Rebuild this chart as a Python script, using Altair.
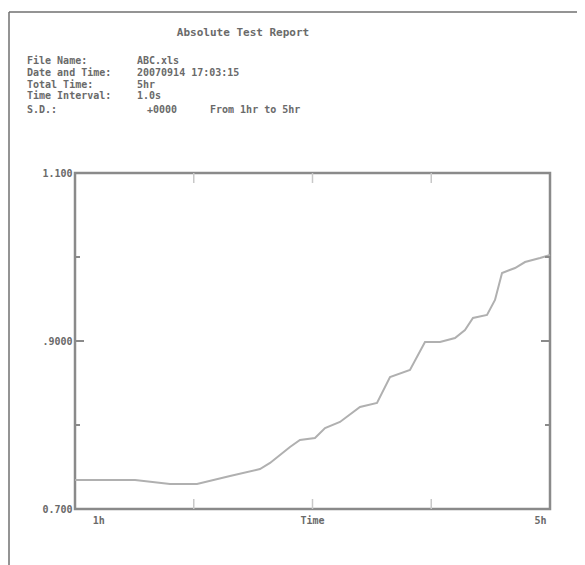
import altair as alt
import pandas as pd

# ---- data ----
hours = [0.0, 0.632, 1.0, 1.284, 1.632, 1.947, 2.053, 2.263, 2.368, 2.526, 2.632, 2.789,
         3.0, 3.179, 3.316, 3.526, 3.684, 3.842, 4.0, 4.105, 4.189, 4.337, 4.421, 4.495,
         4.632, 4.737, 4.895, 5.0]
values = [0.7345, 0.7345, 0.7298, 0.7298, 0.7393, 0.7476, 0.7548, 0.7738, 0.7821, 0.7845,
          0.7964, 0.8036, 0.8214, 0.8262, 0.8571, 0.8655, 0.8988, 0.8988, 0.9036, 0.9131,
          0.9274, 0.9310, 0.9488, 0.9810, 0.9869, 0.9940, 0.9988, 1.0024]

title_text = "Absolute Test Report"
header_labels = ["File Name:", "Date and Time:", "Total Time:", "Time Interval:", "S.D.:"]
header_values = ["ABC.xls", "20070914 17:03:15", "5hr", "1.0s", "+0000"]
range_text = "From 1hr to 5hr"

y_major = [0.7, 0.9, 1.1]
y_major_labels = ["1.100", ".9000", "0.700"]
y_minor = [0.8, 1.0]
x_ticks = [1.25, 2.5, 3.75]
x_label_pos = [0.25, 2.5, 4.9]
x_label_text = ["1h", "Time", "5h"]

W, H = 475, 336
FONT = "DejaVu Sans Mono"
TXT = "#6a6a6a"
FRAME = "#8a8a8a"

xs = alt.Scale(domain=[0, 5], nice=False, zero=False)
ys = alt.Scale(domain=[0.7, 1.1], nice=False, zero=False)

df = pd.DataFrame({"h": hours, "v": values})

line = alt.Chart(df).mark_line(color="#b0b0b0", strokeWidth=2).encode(
    x=alt.X("h:Q", scale=xs, axis=None),
    y=alt.Y("v:Q", scale=ys, axis=alt.Axis(
        values=y_major, ticks=False, domain=False, grid=False, title=None,
        labelExpr="datum.value > 1.05 ? '1.100' : datum.value > 0.85 ? '.9000' : '0.700'",
        labelFont=FONT, labelFontSize=10, labelFontWeight="bold", labelColor=TXT,
        labelPadding=3)),
)

ymaj = pd.DataFrame({"v": y_major})
ymin = pd.DataFrame({"v": y_minor})
xt = pd.DataFrame({"h": x_ticks})

def yticks(d, L):
    left = alt.Chart(d).mark_rule(color=FRAME, strokeWidth=2).encode(
        y=alt.Y("v:Q", scale=ys), x=alt.value(0), x2=alt.value(L))
    right = alt.Chart(d).mark_rule(color=FRAME, strokeWidth=2).encode(
        y=alt.Y("v:Q", scale=ys), x=alt.value(W), x2=alt.value(W - L))
    return [left, right]

xtop = alt.Chart(xt).mark_rule(color="#c8c8c8", strokeWidth=1.5).encode(
    x=alt.X("h:Q", scale=xs), y=alt.value(0), y2=alt.value(10))
xbot = alt.Chart(xt).mark_rule(color="#c8c8c8", strokeWidth=1.5).encode(
    x=alt.X("h:Q", scale=xs), y=alt.value(H), y2=alt.value(H - 10))

xl = pd.DataFrame({"h": x_label_pos, "t": x_label_text})
xlab = alt.Chart(xl).mark_text(font=FONT, fontSize=10, fontWeight="bold", color=TXT,
                               baseline="middle").encode(
    x=alt.X("h:Q", scale=xs), y=alt.value(H + 12), text="t:N")

layers = [line, xtop, xbot, xlab] + yticks(ymaj, 9) + yticks(ymin, 5)

# header texts
layers.append(alt.Chart(pd.DataFrame({"t": [title_text]})).mark_text(
    font=FONT, fontSize=11, fontWeight="bold", color=TXT, align="center", baseline="middle"
).encode(x=alt.value(168), y=alt.value(-140), text="t:N"))

hdr = pd.DataFrame({"l": header_labels, "val": header_values})
hdr["y"] = [-112, -100, -88, -77, -63]
hdr["vx"] = [62, 62, 62, 62, 72]
layers.append(alt.Chart(hdr).mark_text(
    font=FONT, fontSize=10, fontWeight="bold", color=TXT, align="left", baseline="middle"
).encode(x=alt.value(-48), y=alt.Y("y:Q", scale=None), text="l:N"))
layers.append(alt.Chart(hdr).mark_text(
    font=FONT, fontSize=10, fontWeight="bold", color=TXT, align="left", baseline="middle"
).encode(x=alt.X("vx:Q", scale=None), y=alt.Y("y:Q", scale=None), text="val:N"))
layers.append(alt.Chart(pd.DataFrame({"t": [range_text]})).mark_text(
    font=FONT, fontSize=10, fontWeight="bold", color=TXT, align="left", baseline="middle"
).encode(x=alt.value(135), y=alt.value(-63), text="t:N"))

# outer page border (left and top)
layers.append(alt.Chart(pd.DataFrame({"a": [0]})).mark_rule(color="#707070", strokeWidth=1.5).encode(
    x=alt.value(-66), y=alt.value(-161), y2=alt.value(H + 60)))
layers.append(alt.Chart(pd.DataFrame({"a": [0]})).mark_rule(color="#707070", strokeWidth=1.5).encode(
    x=alt.value(-66), x2=alt.value(W + 30), y=alt.value(-161)))

chart = alt.layer(*layers).properties(
    width=W, height=H,
    autosize=alt.AutoSizeParams(type="none"),
    padding={"left": 67, "top": 165, "right": 27, "bottom": 60},
    background="white",
).configure_view(stroke=FRAME, strokeWidth=2.5)

chart.save("out.html", embed_options={"renderer": "svg", "actions": False})
